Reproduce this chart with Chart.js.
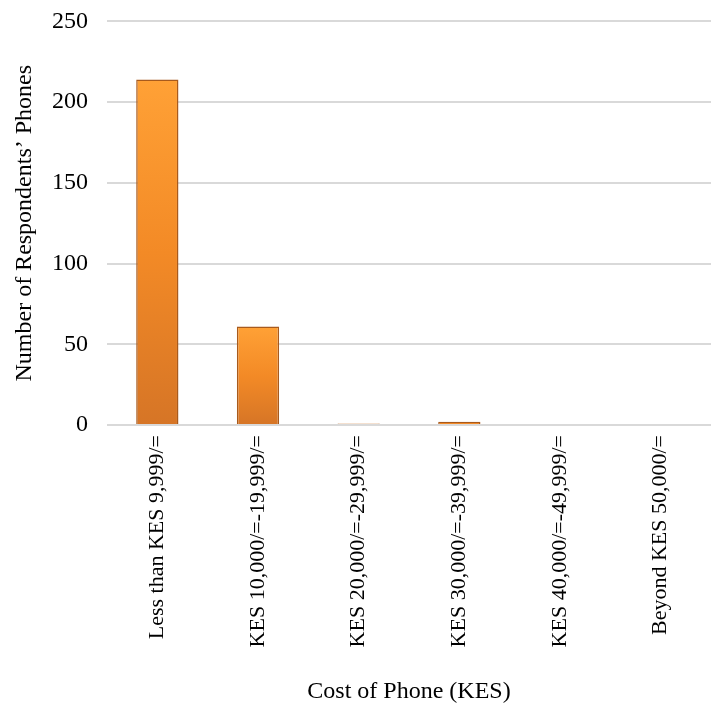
<!DOCTYPE html>
<html>
<head>
<meta charset="utf-8">
<script src="https://cdn.jsdelivr.net/npm/chart.js@4"></script>
<style>
  html, body { margin: 0; padding: 0; background: #fff; }
  #wrap { width: 711px; height: 704px; }
</style>
</head>
<body>
<div id="wrap"><canvas id="phoneChart" width="711" height="704"></canvas></div>
<script>
// data
const categories = [
    "Less than KES 9,999/=",
    "KES 10,000/=-19,999/=",
    "KES 20,000/=-29,999/=",
    "KES 30,000/=-39,999/=",
    "KES 40,000/=-49,999/=",
    "Beyond KES 50,000/="
];
const phoneCounts = [214, 61, 1, 2, 0, 0];
const yTicks = [0, 50, 100, 150, 200, 250];

const serif = "'Liberation Serif', 'Times New Roman', serif";

// each bar gets its own light-to-dark vertical gradient
function barFill(context) {
    const chart = context.chart;
    const area = chart.chartArea;
    if (!area) return "#F28C28";
    const y = chart.scales.y;
    const v = context.raw || 0;
    const top = y.getPixelForValue(v);
    const bottom = y.getPixelForValue(0);
    if (bottom - top < 2) return "#F7A24E";
    const g = chart.ctx.createLinearGradient(0, top, 0, bottom);
    g.addColorStop(0, "#FFA136");
    g.addColorStop(0.5, "#F38A26");
    g.addColorStop(1, "#D67526");
    return g;
}

const ctx = document.getElementById("phoneChart");
new Chart(ctx, {
    type: "bar",
    data: {
        labels: categories,
        datasets: [
            {
                label: "Phones",
                data: phoneCounts,
                backgroundColor: barFill,
                borderColor: "#A85A1C",
                borderWidth: 1.5,
                barPercentage: 0.42,
                categoryPercentage: 1,
            },
        ],
    },
    options: {
        responsive: false,
        animation: false,
        layout: { padding: { top: 0, right: 0, left: 0, bottom: 0 } },
        plugins: {
            legend: { display: false },
            tooltip: { enabled: false },
        },
        scales: {
            x: {
                afterFit: (axis) => {
                    axis.height = 279;
                },
                grid: { display: false },
                border: { display: false },
                ticks: {
                    color: "#000",
                    font: { family: serif, size: 22 },
                    minRotation: 90,
                    maxRotation: 90,
                    padding: 2,
                },
                title: {
                    display: true,
                    text: "Cost of Phone (KES)",
                    color: "#000",
                    font: { family: serif, size: 24 },
                    padding: { top: 10, bottom: -2 },
                },
            },
            y: {
                min: 0,
                max: 250,
                afterBuildTicks: (axis) => {
                    axis.ticks = yTicks.map((v) => ({ value: v }));
                },
                afterFit: (axis) => {
                    axis.width = 107;
                },
                grid: {
                    color: "#D9D9D9",
                    lineWidth: 2,
                    drawTicks: true,
                    tickLength: 12,
                    tickColor: "rgba(0,0,0,0)",
                },
                border: { display: false },
                ticks: {
                    color: "#000",
                    font: { family: serif, size: 24 },
                    padding: 7,
                },
                title: {
                    display: true,
                    text: "Number of Respondents’ Phones",
                    color: "#000",
                    font: { family: serif, size: 24 },
                    padding: { top: 10, bottom: 4 },
                },
            },
        },
    },
});
</script>
</body>
</html>
